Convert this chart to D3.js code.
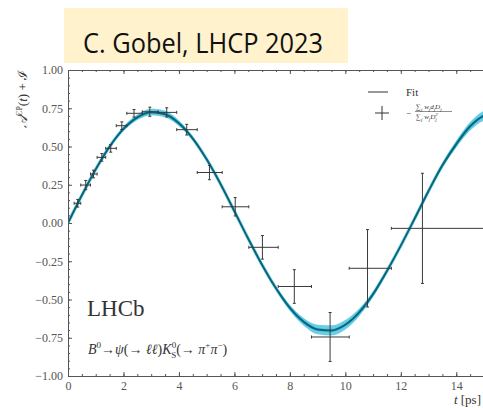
<!DOCTYPE html>
<html>
<head>
<meta charset="utf-8">
<script src="https://d3js.org/d3.v7.min.js"></script>
<style>
  body { margin: 0; background: #fff; }
  svg { display: block; }
  .axis .domain { stroke: #555; stroke-width: 1px; }
  .axis .tick line { stroke: #555; stroke-width: 1px; }
  .axis .tick text { font-family: "Liberation Serif", serif; font-size: 12px; fill: #555; }
  .serif { font-family: "Liberation Serif", "DejaVu Serif", serif; fill: #333; }
</style>
</head>
<body>
<svg width="483" height="408"></svg>
<script>
// binned points
const binEdges = [0.22, 0.46, 0.81, 1.05, 1.36, 1.74, 2.12, 2.68, 3.25, 3.92, 4.66, 5.56, 6.52, 7.58, 8.78, 10.14, 11.66, 16.5];
const binT = [0.35, 0.64, 0.92, 1.22, 1.54, 1.94, 2.38, 2.95, 3.56, 4.28, 5.10, 6.03, 7.01, 8.16, 9.45, 10.80, 12.78];
const binY = [0.129, 0.248, 0.32, 0.429, 0.488, 0.636, 0.717, 0.727, 0.723, 0.61, 0.33, 0.106, -0.159, -0.415, -0.745, -0.296, -0.035];
const binYErr = [0.025, 0.03, 0.025, 0.025, 0.025, 0.025, 0.025, 0.03, 0.03, 0.035, 0.047, 0.06, 0.077, 0.11, 0.16, 0.253, 0.36];

// fit curve
const fitT = [0, 0.5, 1, 1.5, 2, 2.5, 3, 3.5, 4, 4.5, 5, 5.5, 6, 6.5, 7, 7.5, 8, 8.5, 9, 9.5, 10, 10.5, 11, 11.5, 12, 12.5, 13, 13.5, 14, 14.5, 15, 15.5];
const fitY = [0, 0.181, 0.351, 0.499, 0.615, 0.691, 0.724, 0.711, 0.652, 0.552, 0.416, 0.255, 0.077, -0.103, -0.274, -0.427, -0.555, -0.646, -0.696, -0.702, -0.665, -0.584, -0.465, -0.314, -0.148, 0.029, 0.209, 0.377, 0.516, 0.632, 0.702, 0.724];
const fitBand = [0.003, 0.005, 0.007, 0.01, 0.014, 0.018, 0.022, 0.022, 0.018, 0.013, 0.009, 0.007, 0.006, 0.007, 0.009, 0.013, 0.019, 0.025, 0.031, 0.033, 0.031, 0.025, 0.017, 0.011, 0.008, 0.008, 0.011, 0.016, 0.022, 0.028, 0.032, 0.034];

const xTicks = [0, 2, 4, 6, 8, 10, 12, 14];
const yTicks = [-1, -0.75, -0.5, -0.25, 0, 0.25, 0.5, 0.75, 1];

const svg = d3.select("svg");
const x = d3.scaleLinear().domain([0, 15]).range([68, 484]);
const y = d3.scaleLinear().domain([-1, 1]).range([376, 70]);

// title box
svg.append("rect").attr("x", 64).attr("y", 8).attr("width", 284).attr("height", 55).attr("fill", "#FFF2CC");
svg.append("text").attr("x", 83).attr("y", 53)
  .attr("font-family", "Open Sans, sans-serif").attr("font-size", 27).attr("fill", "#111")
  .attr("textLength", 240).attr("lengthAdjust", "spacingAndGlyphs")
  .text("C. Gobel, LHCP 2023");

// fit band + line
const pts = fitT.map((t, i) => ({t, v: fitY[i], e: fitBand[i]}));
const plot = svg.append("g");
plot.append("defs").append("clipPath").attr("id", "clip")
  .append("rect").attr("x", 68).attr("y", 70).attr("width", 420).attr("height", 306);
const pg = plot.append("g").attr("clip-path", "url(#clip)");
const line = d3.line().x(d => x(d.t)).y(d => y(d.v)).curve(d3.curveMonotoneX);
pg.append("path").datum(pts).attr("d", line)
  .attr("fill", "none").attr("stroke", "#35bfe0").attr("stroke-opacity", 0.5).attr("stroke-width", 3.5);
pg.append("path").datum(pts)
  .attr("d", d3.area().x(d => x(d.t)).y0(d => y(d.v - d.e)).y1(d => y(d.v + d.e)).curve(d3.curveMonotoneX))
  .attr("fill", "#2cb8dc").attr("fill-opacity", 0.7);
pg.append("path").datum(pts).attr("d", line)
  .attr("fill", "none").attr("stroke", "#0b6579").attr("stroke-width", 2);

// error bars
const bins = binT.map((t, i) => ({t, v: binY[i], e: binYErr[i], lo: binEdges[i], hi: binEdges[i + 1]}));
const eb = pg.selectAll(".eb").data(bins).enter().append("g").attr("class", "eb")
  .attr("stroke", "#3a3a3a").attr("stroke-width", 1);
eb.append("line").attr("x1", d => x(d.lo)).attr("x2", d => x(d.hi)).attr("y1", d => y(d.v)).attr("y2", d => y(d.v));
eb.append("line").attr("x1", d => x(d.t)).attr("x2", d => x(d.t)).attr("y1", d => y(d.v - d.e)).attr("y2", d => y(d.v + d.e));
eb.append("line").attr("x1", d => x(d.lo)).attr("x2", d => x(d.lo)).attr("y1", d => y(d.v) - 1.5).attr("y2", d => y(d.v) + 1.5);
eb.append("line").attr("x1", d => x(d.hi)).attr("x2", d => x(d.hi)).attr("y1", d => y(d.v) - 1.5).attr("y2", d => y(d.v) + 1.5);
eb.append("line").attr("x1", d => x(d.t) - 1.5).attr("x2", d => x(d.t) + 1.5).attr("y1", d => y(d.v - d.e)).attr("y2", d => y(d.v - d.e));
eb.append("line").attr("x1", d => x(d.t) - 1.5).attr("x2", d => x(d.t) + 1.5).attr("y1", d => y(d.v + d.e)).attr("y2", d => y(d.v + d.e));

// axes
const xMinor = d3.range(0, 15.01, 0.5);
const yMinor = d3.range(-1, 1.001, 0.05);
svg.append("g").attr("class", "axis").attr("transform", "translate(0,376)")
  .call(d3.axisBottom(x).tickValues(xMinor).tickSizeInner(-2).tickSizeOuter(0).tickFormat(""));
svg.append("g").attr("class", "axis").attr("transform", "translate(0,376)")
  .call(d3.axisBottom(x).tickValues(xTicks).tickSizeInner(-4).tickSizeOuter(0).tickPadding(5).tickFormat(d3.format("d")));
svg.append("g").attr("class", "axis").attr("transform", "translate(0,70)")
  .call(d3.axisTop(x).tickValues(xMinor).tickSizeInner(-2).tickSizeOuter(0).tickFormat(""));
svg.append("g").attr("class", "axis").attr("transform", "translate(0,70)")
  .call(d3.axisTop(x).tickValues(xTicks).tickSizeInner(-4).tickSizeOuter(0).tickFormat(""));
svg.append("g").attr("class", "axis").attr("transform", "translate(68,0)")
  .call(d3.axisLeft(y).tickValues(yMinor).tickSizeInner(-2).tickSizeOuter(0).tickFormat(""));
svg.append("g").attr("class", "axis").attr("transform", "translate(68,0)")
  .call(d3.axisLeft(y).tickValues(yTicks).tickSizeInner(-4).tickSizeOuter(0).tickPadding(5)
    .tickFormat(d => d3.format(".2f")(d).replace("-", "\u2212")));

// axis labels
const yl = svg.append("text").attr("class", "serif").attr("font-size", 13)
  .attr("transform", "translate(27,70) rotate(-90)").attr("text-anchor", "end");
yl.append("tspan").attr("font-style", "italic").text("\u{1D49C}");
yl.append("tspan").attr("font-size", 8).attr("dy", -5).text("CP");
yl.append("tspan").attr("dy", 5).text("(");
yl.append("tspan").attr("font-style", "italic").text("t");
yl.append("tspan").text(") + \u2110");

const xl = svg.append("text").attr("class", "serif").attr("font-size", 13)
  .attr("x", 481).attr("y", 404).attr("text-anchor", "end");
xl.append("tspan").attr("font-style", "italic").text("t");
xl.append("tspan").text(" [ps]");

// legend
svg.append("line").attr("x1", 368).attr("x2", 388).attr("y1", 92).attr("y2", 92).attr("stroke", "#333");
svg.append("text").attr("class", "serif").attr("font-size", 11).attr("x", 406).attr("y", 96).text("Fit");
svg.append("line").attr("x1", 375).attr("x2", 389).attr("y1", 113).attr("y2", 113).attr("stroke", "#333");
svg.append("line").attr("x1", 382).attr("x2", 382).attr("y1", 106).attr("y2", 120).attr("stroke", "#333");
svg.append("text").attr("class", "serif").attr("font-size", 9).attr("x", 406).attr("y", 116).text("\u2212");
const num = svg.append("text").attr("class", "serif").attr("font-size", 7).attr("font-style", "italic").attr("x", 416).attr("y", 109);
num.append("tspan").attr("font-style", "normal").text("\u2211");
num.append("tspan").attr("font-size", 5).attr("dy", 1.5).text("j");
num.append("tspan").attr("dy", -1.5).text(" w");
num.append("tspan").attr("font-size", 5).attr("dy", 1.5).text("j");
num.append("tspan").attr("dy", -1.5).text("d");
num.append("tspan").attr("font-size", 5).attr("dy", 1.5).text("j");
num.append("tspan").attr("dy", -1.5).text("D");
num.append("tspan").attr("font-size", 5).attr("dy", 1.5).text("j");
svg.append("line").attr("x1", 415).attr("x2", 452).attr("y1", 111.5).attr("y2", 111.5).attr("stroke", "#444").attr("stroke-width", 0.6);
const den = svg.append("text").attr("class", "serif").attr("font-size", 7).attr("font-style", "italic").attr("x", 416).attr("y", 119);
den.append("tspan").attr("font-style", "normal").text("\u2211");
den.append("tspan").attr("font-size", 5).attr("dy", 1.5).text("j");
den.append("tspan").attr("dy", -1.5).text(" w");
den.append("tspan").attr("font-size", 5).attr("dy", 1.5).text("j");
den.append("tspan").attr("dy", -1.5).text("D");
den.append("tspan").attr("font-size", 5).attr("dy", -3).text("2");
den.append("tspan").attr("font-size", 5).attr("dx", -2.5).attr("dy", 4.5).text("j");

// LHCb labels
svg.append("text").attr("class", "serif").attr("font-size", 23).attr("fill", "#222")
  .attr("x", 87).attr("y", 316).text("LHCb");
const dec = svg.append("text").attr("class", "serif").attr("font-size", 14).attr("fill", "#222")
  .attr("x", 88).attr("y", 354);
dec.append("tspan").attr("font-style", "italic").text("B");
dec.append("tspan").attr("font-size", 9).attr("dy", -6).text("0");
dec.append("tspan").attr("dy", 6).text("\u2192");
dec.append("tspan").attr("font-style", "italic").text("\u03C8");
dec.append("tspan").text("(\u2192 ");
dec.append("tspan").attr("font-style", "italic").text("\u2113\u2113");
dec.append("tspan").text(")");
dec.append("tspan").attr("font-style", "italic").text("K");
dec.append("tspan").attr("font-size", 9).attr("dy", -6).text("0");
dec.append("tspan").attr("font-size", 9).attr("dx", -5).attr("dy", 10).text("S");
dec.append("tspan").attr("dy", -4).text("(\u2192 ");
dec.append("tspan").attr("font-style", "italic").text("\u03C0");
dec.append("tspan").attr("font-size", 9).attr("dy", -6).text("+");
dec.append("tspan").attr("font-style", "italic").attr("dy", 6).text("\u03C0");
dec.append("tspan").attr("font-size", 9).attr("dy", -6).text("\u2212");
dec.append("tspan").attr("dy", 6).text(")");
</script>
</body>
</html>
